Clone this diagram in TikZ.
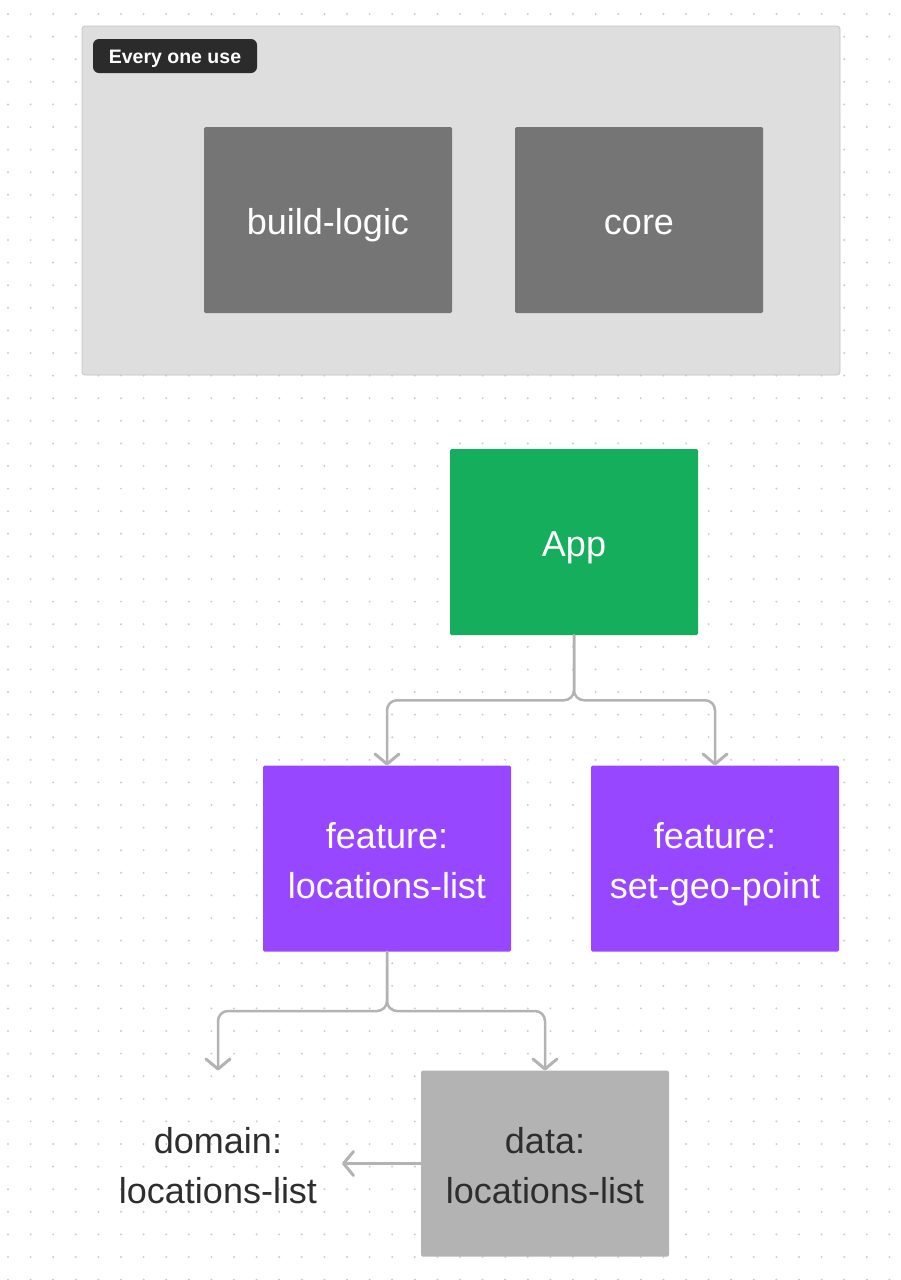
\documentclass[tikz,border=0pt]{standalone}
\usepackage{fontspec}
\setmainfont{Liberation Sans}
\usetikzlibrary{arrows.meta,calc}
\definecolor{dotc}{HTML}{CCCCCC}
\definecolor{framefill}{HTML}{DEDEDE}
\definecolor{framedraw}{HTML}{C4C4C4}
\definecolor{tagfill}{HTML}{2B2B2B}
\definecolor{darkbox}{HTML}{757575}
\definecolor{appgreen}{HTML}{14AE5C}
\definecolor{featpurple}{HTML}{9747FF}
\definecolor{databox}{HTML}{B3B3B3}
\definecolor{conncol}{HTML}{B3B3B3}
\definecolor{darktext}{HTML}{2E2E2E}
\newcommand\twolines[2]{\rule{0pt}{38pt}#1\\#2\rule[-8pt]{0pt}{8pt}}
\tikzset{
  modbox/.style={minimum width=248pt, minimum height=186pt, inner sep=0pt, outer sep=0pt,
    rounded corners=1.5pt, align=center, font=\fontsize{36}{50}\selectfont},
  oneline/.style={text height=32pt, text depth=4pt},
  conn/.style={draw=conncol, line width=2.5pt, rounded corners=10pt, line cap=round,
    -{Straight Barb[length=10pt,width=24pt,line width=3pt,round]}},
  tagbox/.style={fill=tagfill, text=white, rounded corners=6pt, minimum width=164pt,
    minimum height=34pt, inner sep=0pt, text height=15pt, text depth=1pt,
    font=\fontsize{19.5}{23}\selectfont\bfseries}
}
\begin{document}
\begin{tikzpicture}[x=1pt,y=-1pt]
\useasboundingbox (0,0) rectangle (901,1280);
\fill[white] (0,0) rectangle (901,1280);
\foreach \i in {0,...,39}{
  \foreach \j in {0,...,56}{
    \fill[dotc] ({8+22.6*\i},{14+22.6*\j}) circle (1.1pt);
  }
}
% group frame
\node[draw=framedraw, line width=0.8pt, fill=framefill, rounded corners=3pt,
  minimum width=758pt, minimum height=349pt, inner sep=0pt] (grp) at (461,200.5) {};
\node[tagbox] (tag) at (175,56) {Every one use};
\node[modbox, oneline, fill=darkbox, text=white] (bl) at (328,220) {build-logic};
\node[modbox, oneline, fill=darkbox, text=white] (core) at (639,220) {core};
% main graph
\node[modbox, oneline, fill=appgreen, text=white] (app) at (574,542) {App};
\node[modbox, fill=featpurple, text=white] (fl) at (387,858.5) {\twolines{feature:}{locations-list}};
\node[modbox, fill=featpurple, text=white] (fs) at (715,858.5) {\twolines{feature:}{set-geo-point}};
\node[modbox, fill=databox, text=darktext] (data) at (545,1163.5) {\twolines{data:}{locations-list}};
\node[modbox, text=darktext] (dom) at (218,1163.5) {\twolines{domain:}{locations-list}};
% connectors
\coordinate (m1) at ($(app.south)!0.5!(fl.north)$);
\coordinate (m2) at ($(fl.south)!0.5!(data.north)$);
\draw[conn] (app.south) |- (fl.north |- m1) -- (fl.north);
\draw[conn] (app.south) |- (fs.north |- m1) -- (fs.north);
\draw[conn] (fl.south) |- (dom.north |- m2) -- (dom.north);
\draw[conn] (fl.south) |- (data.north |- m2) -- (data.north);
\draw[conn] (data.west) -- (dom.east);
\end{tikzpicture}
\end{document}
